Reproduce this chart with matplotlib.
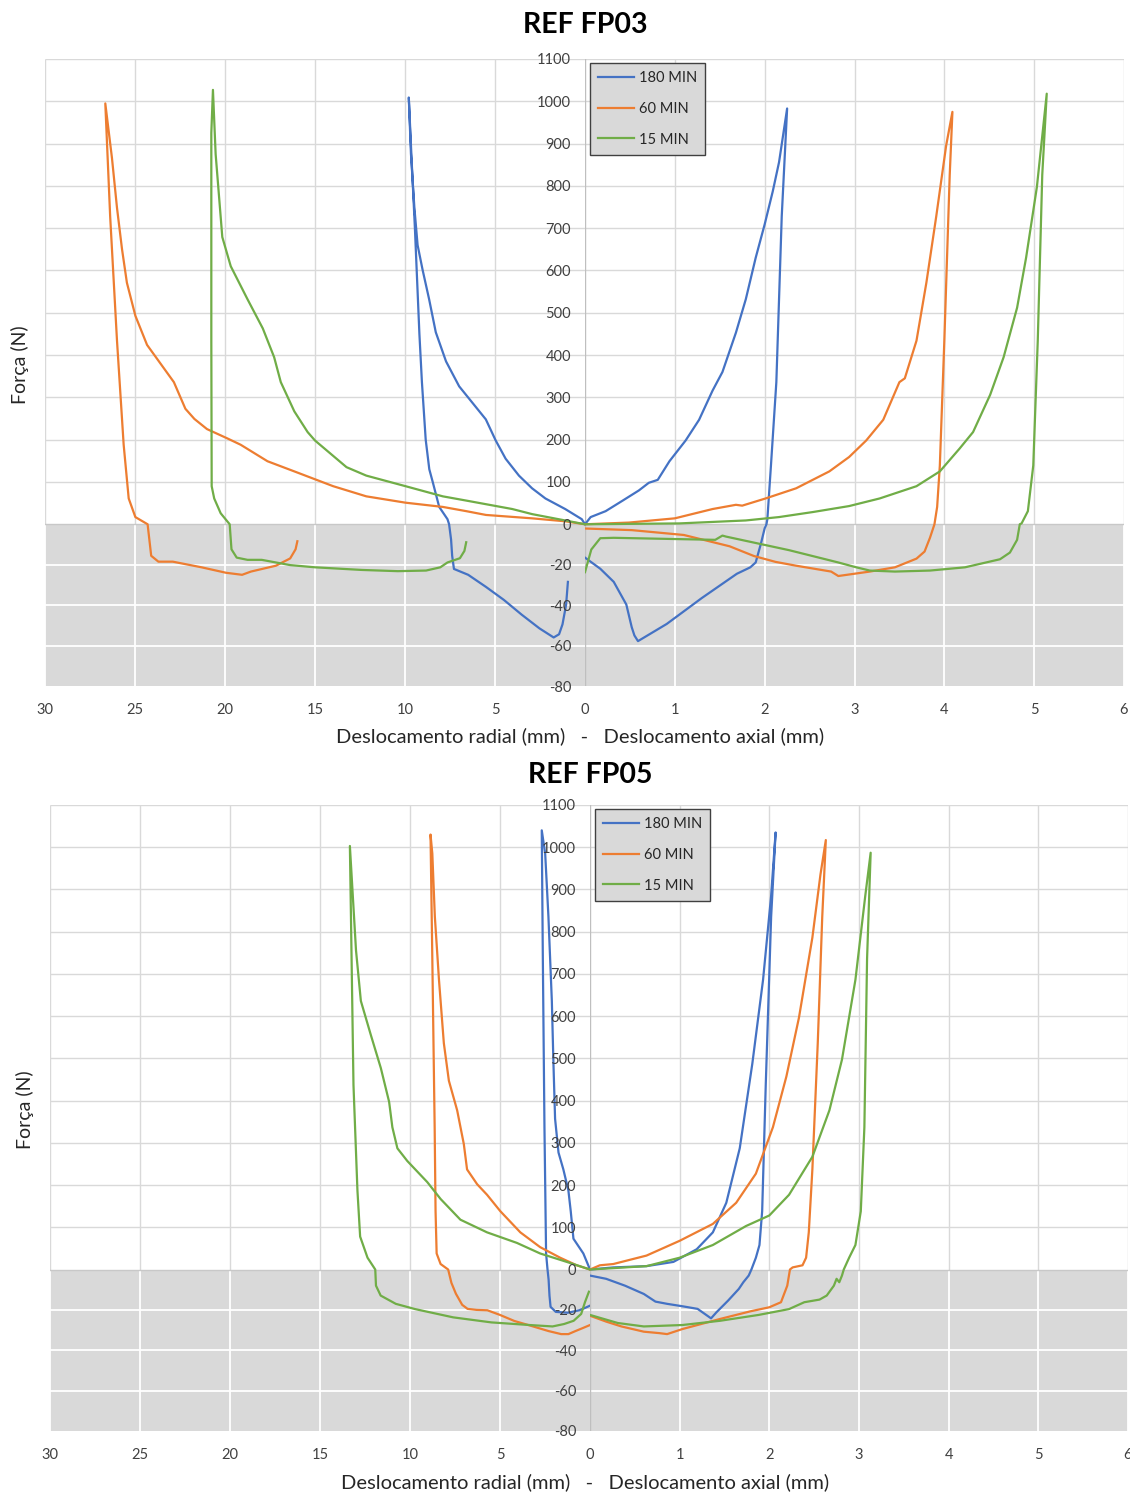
import matplotlib
matplotlib.use('Agg')
import matplotlib.pyplot as plt
import numpy as np

plt.rcParams['font.family'] = ['Lato', 'DejaVu Sans']

# Series names and Excel-like colors
series_names = ['180 MIN', '60 MIN', '15 MIN']
series_colors = ['#4472c4', '#ed7d31', '#70ad47']

# Tick values
radial_ticks = [30, 25, 20, 15, 10, 5, 0]
axial_ticks = [1, 2, 3, 4, 5, 6]
force_ticks = [-80, -60, -40, -20, 0, 100, 200, 300, 400, 500, 600, 700, 800, 900, 1000, 1100]

# ---- REF FP03 : (displacement mm, force N) ----
fp03_rad_180 = [(0, 0), (0.18, 12), (1.1, 36), (2.2, 61), (2.94, 85), (3.67, 115), (4.41, 155), (4.96, 198),
                (5.51, 248), (6.25, 287), (6.99, 326), (7.72, 385), (8.29, 454), (8.66, 532), (9.02, 601),
                (9.3, 660), (9.48, 749), (9.67, 876), (9.79, 1009),
                (9.62, 850), (9.45, 700), (9.35, 600), (9.2, 450), (9.06, 336), (8.85, 200), (8.65, 130),
                (8.46, 100), (8.1, 41), (7.64, 12), (7.55, 0),
                (7.44, -7.6), (7.38, -15.6), (7.28, -22.1), (6.49, -25), (5.5, -31), (4.51, -37.4),
                (3.52, -44.7), (2.53, -51.5), (1.74, -56), (1.44, -54.4), (1.25, -49.5), (1.05, -39.8),
                (0.95, -28.5)]
fp03_rad_60 = [(0, 0), (1.1, 7), (2.94, 14), (5.5, 22), (6.6, 31), (7.9, 41), (9.97, 51), (12.15, 66),
               (13.99, 90), (16.15, 125), (17.64, 149), (19.13, 188), (19.87, 203), (21.0, 225), (21.7, 249),
               (22.2, 273), (22.84, 336), (24.33, 424), (24.98, 493), (25.45, 571), (25.72, 650), (26.0, 748),
               (26.28, 866), (26.65, 995),
               (26.38, 728), (26.0, 434), (25.63, 188), (25.35, 61), (24.98, 17), (24.3, 0),
               (24.1, -15.6), (23.7, -18.5), (22.9, -18.5), (21.3, -21.3), (19.94, -24), (19.05, -25),
               (18.56, -23.4), (17.17, -20.5), (16.38, -16.9), (16.08, -12.4), (15.98, -8.4)]
fp03_rad_15 = [(0, 0), (1.47, 12), (2.94, 24), (4.04, 36), (6.6, 56), (7.9, 66), (9.97, 90), (12.15, 115),
               (13.25, 135), (15.0, 198), (15.41, 218), (16.15, 267), (16.9, 336), (17.27, 395), (17.9, 463),
               (18.75, 532), (19.68, 610), (20.15, 679), (20.52, 875), (20.67, 1027),
               (20.76, 925), (20.76, 434), (20.74, 90), (20.6, 61), (20.24, 26), (19.74, 0),
               (19.64, -12.4), (19.35, -16.5), (18.75, -17.6), (17.96, -17.6), (16.38, -20.2), (14.99, -21.3),
               (12.39, -22.6), (10.4, -23.2), (8.83, -22.9), (8.04, -21.3), (7.64, -18.9), (6.95, -16.8),
               (6.7, -13.2), (6.6, -8.9)]

fp03_ax_180 = [(0, 0), (0.063, 17), (0.23, 31), (0.42, 56), (0.6, 80), (0.71, 98), (0.81, 105), (0.94, 149),
               (1.12, 198), (1.27, 247), (1.42, 316), (1.53, 360), (1.68, 453), (1.79, 532), (1.9, 630),
               (2.0, 709), (2.09, 787), (2.16, 856), (2.25, 983),
               (2.19, 728), (2.13, 336), (2.07, 139), (2.03, 12), (2.02, 0),
               (2.0, -2), (1.96, -9.3), (1.9, -18.9), (1.84, -21.3), (1.69, -24.5), (1.3, -36.5),
               (0.91, -49.3), (0.59, -57.8), (0.55, -55), (0.52, -50.9), (0.46, -39.7), (0.32, -28.5),
               (0.17, -22), (0, -16.5)]
fp03_ax_60 = [(0, 0), (0.49, 4), (1.0, 14), (1.42, 36), (1.68, 46), (1.75, 44), (2.01, 61), (2.35, 85),
              (2.72, 125), (2.94, 159), (3.13, 198), (3.32, 247), (3.5, 336), (3.56, 345), (3.69, 434),
              (3.8, 571), (3.91, 728), (4.02, 895), (4.09, 975),
              (4.06, 826), (4.0, 434), (3.95, 139), (3.92, 41), (3.89, 0),
              (3.84, -6.7), (3.78, -13.5), (3.69, -17), (3.45, -21.3), (3.17, -23.4), (2.82, -25.6),
              (2.74, -23.4), (2.35, -20.5), (2.12, -18.6), (1.88, -15.7), (1.61, -10.9), (1.1, -5.3),
              (0.52, -2.9), (0, -2.1)]
fp03_ax_15 = [(0, 0), (1.05, 2), (1.79, 9), (2.16, 17), (2.54, 29), (2.94, 43), (3.28, 61), (3.69, 90),
              (3.95, 125), (4.17, 179), (4.32, 218), (4.51, 306), (4.66, 395), (4.81, 512), (4.91, 630),
              (5.03, 797), (5.14, 1018),
              (5.09, 826), (5.04, 434), (4.99, 139), (4.93, 31), (4.86, 2), (4.84, 0),
              (4.81, -7.7), (4.73, -14), (4.62, -17.3), (4.23, -21.3), (3.84, -22.9), (3.45, -23.4),
              (3.17, -22.9), (3.02, -21.3), (2.82, -18.9), (2.27, -12.8), (1.57, -6.1), (1.53, -5.6),
              (1.45, -7.7), (1.1, -7.4), (0.32, -6.7), (0.17, -6.9), (0.07, -12.5), (0, -23.7)]

# ---- REF FP05 ----
fp05_rad_180 = [(0, 0), (0.37, 38), (0.92, 73), (1.07, 138), (1.2, 187), (1.48, 237), (1.75, 277),
                (1.94, 357), (2.03, 487), (2.12, 636), (2.31, 836), (2.49, 985), (2.68, 1040),
                (2.62, 736), (2.53, 337), (2.44, 38), (2.36, 0),
                (2.3, -5), (2.25, -13), (2.19, -18.5), (1.9, -21), (1.23, -21.4), (0.6, -20.2),
                (0.27, -19), (0, -17.9)]
fp05_rad_60 = [(0, 0), (0.74, 10), (1.66, 28), (2.77, 53), (3.87, 88), (4.98, 138), (5.72, 177), (6.27, 202),
               (6.83, 237), (7.01, 297), (7.38, 377), (7.84, 447), (8.12, 536), (8.39, 686), (8.62, 836),
               (8.76, 985), (8.86, 1030),
               (8.76, 736), (8.63, 337), (8.58, 138), (8.52, 38), (8.3, 13), (7.88, 0),
               (7.7, -6.6), (7.45, -12), (7.1, -17.5), (6.8, -19.5), (6.3, -20), (5.7, -20.2), (5.0, -22.5),
               (4.2, -25.5), (3.35, -27.7), (2.3, -30.5), (1.6, -32), (1.2, -32), (0.81, -30.5),
               (0.4, -29), (0, -27.5)]
fp05_rad_15 = [(0, 0), (1.29, 18), (2.77, 38), (4.06, 63), (5.72, 88), (7.2, 118), (8.3, 167), (9.04, 207),
               (10.15, 257), (10.7, 287), (10.98, 337), (11.16, 397), (11.62, 477), (12.18, 556),
               (12.73, 636), (13.0, 756), (13.34, 1003),
               (13.28, 835), (13.14, 437), (12.92, 187), (12.77, 78), (12.36, 28), (11.93, 0),
               (11.89, -8), (11.63, -12.9), (10.79, -17), (9.72, -19.6), (7.6, -23.7), (5.48, -26.2),
               (3.35, -27.5), (2.08, -28.2), (1.44, -27), (0.91, -25.4), (0.49, -22), (0.28, -16.2),
               (0.06, -11)]

fp05_ax_180 = [(0, 0), (0.26, 5), (0.63, 8), (0.93, 18), (1.19, 48), (1.37, 88), (1.52, 158), (1.67, 287),
               (1.81, 487), (1.93, 686), (2.02, 885), (2.07, 1035),
               (2.02, 835), (1.96, 437), (1.92, 138), (1.89, 58), (1.85, 28), (1.8, 0),
               (1.77, -3), (1.71, -6.3), (1.66, -9.6), (1.54, -15.4), (1.41, -21.2), (1.35, -24.2),
               (1.28, -22), (1.2, -19.5), (1.03, -18.2), (0.86, -17), (0.73, -15.9), (0.6, -12.1),
               (0.39, -8), (0.18, -4.6), (0, -3)]
fp05_ax_60 = [(0, 0), (0.11, 10), (0.26, 13), (0.63, 33), (1.0, 68), (1.37, 108), (1.63, 158), (1.85, 227),
              (2.04, 337), (2.19, 457), (2.33, 596), (2.48, 786), (2.57, 935), (2.63, 1017),
              (2.59, 835), (2.54, 536), (2.48, 237), (2.44, 88), (2.41, 28), (2.37, 10), (2.26, 5), (2.23, 0),
              (2.2, -8), (2.13, -16.2), (2.0, -18.7), (1.79, -20.7), (1.45, -24.5), (1.24, -27),
              (1.03, -29.5), (0.86, -32), (0.77, -31.5), (0.6, -30.8), (0.35, -28.2), (0.18, -25.8),
              (0, -22.9)]
fp05_ax_15 = [(0, 0), (0.63, 8), (1.0, 28), (1.37, 58), (1.74, 103), (2.0, 128), (2.22, 177), (2.48, 267),
              (2.67, 377), (2.81, 497), (2.96, 686), (3.07, 885), (3.13, 987),
              (3.09, 736), (3.06, 337), (3.02, 138), (2.96, 58), (2.89, 28), (2.83, 0),
              (2.81, -3), (2.78, -6.3), (2.75, -4.6), (2.72, -8), (2.64, -12.9), (2.56, -14.9),
              (2.39, -16.2), (2.22, -19.6), (1.88, -22.5), (1.45, -25.4), (1.03, -27.5), (0.6, -28.2),
              (0.31, -26.5), (0, -22.5)]

W, H = 1130, 1493
GRID = '#d9d9d9'
TEXT = '#404040'
NEG_STRETCH = 4.78  # one 20 N step below zero is drawn about as tall as 100 N above


# Force axis: negative side is stretched (20 N per gridline below zero, 100 N above)
def stretch(y):
    y = np.asarray(y, dtype=float)
    return np.where(y >= 0, y, NEG_STRETCH * y)


def unstretch(y):
    y = np.asarray(y, dtype=float)
    return np.where(y >= 0, y, y / NEG_STRETCH)


def add_axes_px(fig, x0, x1, ytop, ybot):
    return fig.add_axes([x0 / W, 1 - ybot / H, (x1 - x0) / W, (ybot - ytop) / H])


def style_axes(ax, xlim, vlines_at):
    ax.set_facecolor('none')
    ax.set_yscale('function', functions=(stretch, unstretch))
    ax.set_xlim(*xlim)
    ax.set_ylim(-80, 1100)
    lo, hi = min(xlim), max(xlim)
    # shaded negative zone
    ax.axhspan(-80, 0, color=GRID, zorder=0, lw=0)
    # grid: grey on white, white on grey
    ax.hlines([t for t in force_ticks if t > 0], lo, hi, colors=GRID, lw=1, zorder=1)
    ax.hlines([-20, -40, -60], lo, hi, colors='white', lw=1.3, zorder=1)
    ax.vlines(vlines_at, 0, 1100, colors=GRID, lw=1, zorder=1)
    ax.vlines(vlines_at, -80, 0, colors='white', lw=1.3, zorder=1)
    ax.axhline(0, color='#c8c8c8', lw=1, zorder=1)
    for s in ax.spines.values():
        s.set_visible(False)


def draw_panel(fig, title, x0, xc, x1, ytop, ybot, radial_curves, axial_curves, title_y, xlabel_y, ylabel_x):
    ax_r = add_axes_px(fig, x0, xc, ytop, ybot)
    ax_a = add_axes_px(fig, xc, x1, ytop, ybot)

    style_axes(ax_r, (30, 0), [30, 25, 20, 15, 10, 5])
    style_axes(ax_a, (0, 6), [1, 2, 3, 4, 5, 6])
    ax_a.axvline(0, color='#bfbfbf', lw=1, zorder=1)

    # x ticks
    ax_r.set_xticks(radial_ticks)
    ax_r.set_xticklabels([str(t) for t in radial_ticks])
    ax_a.set_xticks(axial_ticks)
    ax_a.set_xticklabels([str(t) for t in axial_ticks])
    for ax in (ax_r, ax_a):
        ax.tick_params(axis='x', length=0, pad=12, labelsize=10.5, labelcolor=TEXT)
    ax_r.set_yticks([])
    ax_r.minorticks_off()

    # y ticks sit on the central axis
    ax_a.set_yticks(force_ticks)
    ax_a.set_yticklabels([str(t) for t in force_ticks])
    ax_a.minorticks_off()
    ax_a.tick_params(axis='y', length=0, pad=10, labelsize=10.5, labelcolor=TEXT)

    # curves
    for name, color, rad, axl in zip(series_names, series_colors, radial_curves, axial_curves):
        r, f = zip(*rad)
        ax_r.plot(r, f, color=color, lw=1.6, zorder=3, solid_joinstyle='round')
        a, f = zip(*axl)
        ax_a.plot(a, f, color=color, lw=1.6, zorder=3, label=name, solid_joinstyle='round')

    leg = ax_a.legend(loc='upper left', bbox_to_anchor=(5 / (x1 - xc), 1 - 4 / (ybot - ytop)),
                      borderaxespad=0, fontsize=10.5, handlelength=2.5, handletextpad=0.3,
                      labelspacing=1.15, borderpad=0.55, fancybox=False, framealpha=1)
    leg.get_frame().set_facecolor(GRID)
    leg.get_frame().set_edgecolor('#404040')
    leg.get_frame().set_linewidth(1)
    for t in leg.get_texts():
        t.set_color('#262626')

    # titles and labels
    fig.text(xc / W, 1 - title_y / H, title, ha='center', va='center', fontsize=20.5,
             fontweight='bold', color='black')
    fig.text((xc - 5) / W, 1 - xlabel_y / H,
             'Deslocamento radial (mm)   -   Deslocamento axial (mm)',
             ha='center', va='center', fontsize=14.5, color='#262626')
    fig.text(ylabel_x / W, 1 - ((ytop + ybot) / 2 - 8) / H, 'Força (N)', rotation=90,
             ha='center', va='center', fontsize=14, color='#262626')


fig = plt.figure(figsize=(W / 100, H / 100), dpi=100)

draw_panel(fig, 'REF FP03', 45, 585, 1124, 59, 686,
           [fp03_rad_180, fp03_rad_60, fp03_rad_15],
           [fp03_ax_180, fp03_ax_60, fp03_ax_15],
           title_y=25, xlabel_y=736, ylabel_x=20)

draw_panel(fig, 'REF FP05', 50, 590, 1128, 805, 1431,
           [fp05_rad_180, fp05_rad_60, fp05_rad_15],
           [fp05_ax_180, fp05_ax_60, fp05_ax_15],
           title_y=775, xlabel_y=1482, ylabel_x=25)

fig.savefig('out.png', dpi=100)
